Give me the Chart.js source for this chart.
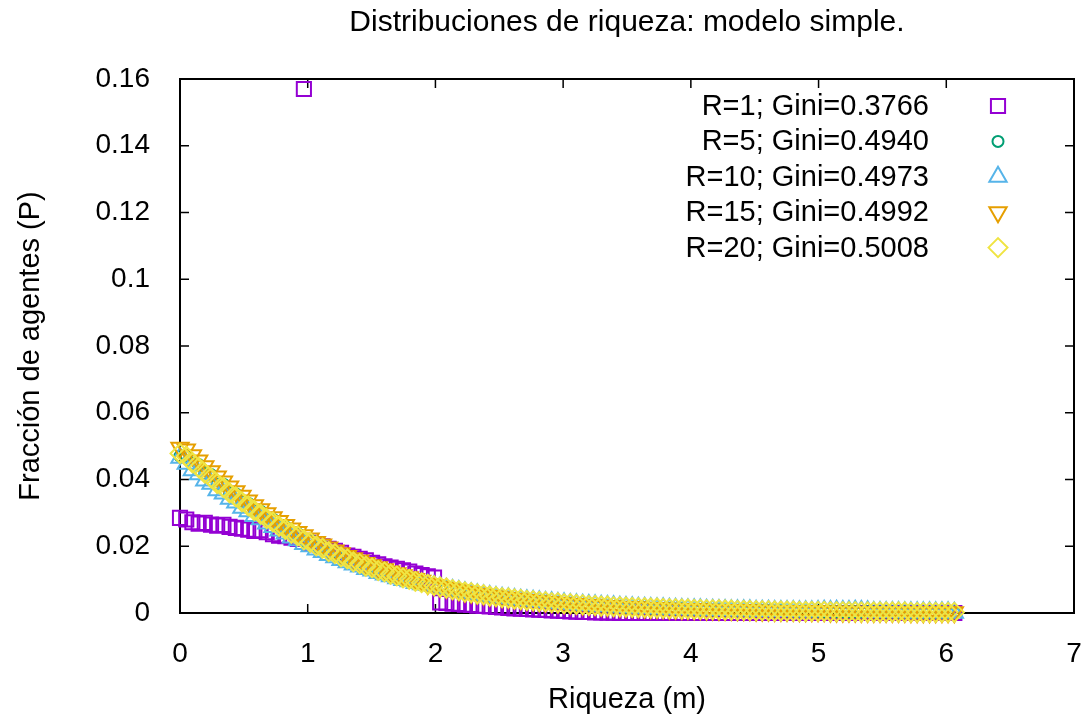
<!DOCTYPE html>
<html>
<head>
<meta charset="utf-8">
<title>Distribuciones de riqueza: modelo simple</title>
<script src="https://cdn.jsdelivr.net/npm/chart.js@4.4.1/dist/chart.umd.min.js"></script>
<style>
  html, body { margin: 0; padding: 0; background: #fff; }
  #wrap { width: 1086px; height: 718px; }
</style>
</head>
<body>
<div id="wrap"><canvas id="riquezaChart" width="1086" height="718"></canvas></div>
<script>
// centro de cada bin de riqueza (m)
const wealth = [
  0, 0.049, 0.097, 0.146, 0.194, 0.243, 0.291, 0.340, 0.388, 0.437,
  0.485, 0.534, 0.582, 0.631, 0.679, 0.728, 0.776, 0.825, 0.873, 0.922,
  0.970, 1.019, 1.067, 1.116, 1.164, 1.213, 1.261, 1.310, 1.358, 1.407,
  1.455, 1.504, 1.552, 1.601, 1.649, 1.698, 1.746, 1.795, 1.843, 1.892,
  1.940, 1.989, 2.037, 2.086, 2.134, 2.183, 2.231, 2.280, 2.328, 2.377,
  2.425, 2.474, 2.522, 2.571, 2.619, 2.668, 2.716, 2.765, 2.813, 2.862,
  2.910, 2.959, 3.007, 3.056, 3.104, 3.153, 3.201, 3.250, 3.298, 3.347,
  3.395, 3.444, 3.492, 3.541, 3.589, 3.638, 3.686, 3.735, 3.783, 3.832,
  3.880, 3.929, 3.977, 4.026, 4.074, 4.123, 4.171, 4.220, 4.268, 4.317,
  4.365, 4.414, 4.462, 4.511, 4.559, 4.608, 4.656, 4.705, 4.753, 4.802,
  4.850, 4.899, 4.947, 4.996, 5.044, 5.093, 5.141, 5.190, 5.238, 5.287,
  5.335, 5.384, 5.432, 5.481, 5.529, 5.578, 5.626, 5.675, 5.723, 5.772,
  5.820, 5.869, 5.917, 5.966, 6.014, 6.063
];

// fraccion de agentes en cada bin, una lista por numero de rondas R
const fracR1 = [
  0.0285, 0.0280, 0.0272, 0.0268, 0.0270, 0.0265, 0.0262, 0.0264, 0.0258, 0.0255,
  0.0253, 0.0250, 0.0246, 0.0248, 0.0242, 0.0236, 0.0232, 0.0230, 0.0226, 0.0222,
  0.1570, 0.0210, 0.0206, 0.0200, 0.0192, 0.0186, 0.0180, 0.0172, 0.0168, 0.0162,
  0.0158, 0.0150, 0.0146, 0.0140, 0.0136, 0.0132, 0.0128, 0.0124, 0.0118, 0.0114,
  0.0110, 0.0106, 0.0032, 0.0030, 0.0028, 0.0027, 0.0025, 0.0024, 0.0022, 0.0021,
  0.0020, 0.0018, 0.0017, 0.0015, 0.0014, 0.0013, 0.0012, 0.0011, 0.0010, 0.0009,
  0.0008, 0.0007, 0.0006, 0.0005, 0.0004, 0.0003, 0.0003, 0.0002, 0.0002, 0.0001,
  0.0001, 0, 0, 0, 0, 0, 0, 0, 0, 0,
  0, 0, 0, 0, 0, 0, 0, 0, 0, 0,
  0, 0, 0, 0, 0, 0, 0, 0, 0, 0,
  0, 0, 0, 0, 0, 0, 0, 0, 0, 0,
  0, 0, 0, 0, 0, 0, 0, 0, 0, 0,
  0, 0, 0, 0, 0, 0
];

const fracR5 = [
  0.0470, 0.0472, 0.0448, 0.0445, 0.0418, 0.0415, 0.0386, 0.0386, 0.0359, 0.0357,
  0.0334, 0.0329, 0.0308, 0.0305, 0.0281, 0.0281, 0.0258, 0.0259, 0.0237, 0.0238,
  0.0216, 0.0219, 0.0198, 0.0201, 0.0181, 0.0184, 0.0165, 0.0168, 0.0149, 0.0154,
  0.0136, 0.0140, 0.0122, 0.0128, 0.0110, 0.0116, 0.0099, 0.0106, 0.0089, 0.0096,
  0.0085, 0.0083, 0.0077, 0.0075, 0.0069, 0.0067, 0.0062, 0.0061, 0.0056, 0.0055,
  0.0050, 0.0049, 0.0046, 0.0045, 0.0042, 0.0041, 0.0038, 0.0037, 0.0035, 0.0034,
  0.0031, 0.0031, 0.0028, 0.0028, 0.0025, 0.0025, 0.0023, 0.0023, 0.0021, 0.0021,
  0.0019, 0.0019, 0.0017, 0.0018, 0.0016, 0.0016, 0.0014, 0.0015, 0.0013, 0.0014,
  0.0012, 0.0013, 0.0011, 0.0012, 0.0010, 0.0011, 0.0009, 0.0010, 0.0009, 0.0009,
  0.0008, 0.0009, 0.0007, 0.0008, 0.0007, 0.0007, 0.0006, 0.0007, 0.0006, 0.0006,
  0.0005, 0.0006, 0.0005, 0.0005, 0.0004, 0.0005, 0.0004, 0.0004, 0.0004, 0.0004,
  0.0003, 0.0004, 0.0003, 0.0003, 0.0003, 0.0003, 0.0002, 0.0003, 0.0002, 0.0002,
  0.0002, 0.0002, 0.0002, 0.0002, 0.0001, 0.0002
];

const fracR10 = [
  0.0465, 0.0447, 0.0428, 0.0416, 0.0397, 0.0387, 0.0368, 0.0358, 0.0342, 0.0331,
  0.0315, 0.0305, 0.0291, 0.0281, 0.0268, 0.0258, 0.0247, 0.0238, 0.0226, 0.0218,
  0.0207, 0.0200, 0.0190, 0.0183, 0.0174, 0.0167, 0.0159, 0.0152, 0.0145, 0.0139,
  0.0132, 0.0127, 0.0120, 0.0115, 0.0110, 0.0104, 0.0099, 0.0095, 0.0090, 0.0086,
  0.0085, 0.0081, 0.0077, 0.0073, 0.0069, 0.0066, 0.0062, 0.0059, 0.0056, 0.0053,
  0.0051, 0.0048, 0.0046, 0.0044, 0.0042, 0.0040, 0.0038, 0.0037, 0.0035, 0.0033,
  0.0032, 0.0030, 0.0029, 0.0027, 0.0026, 0.0025, 0.0024, 0.0023, 0.0022, 0.0021,
  0.0020, 0.0019, 0.0018, 0.0017, 0.0016, 0.0016, 0.0015, 0.0014, 0.0014, 0.0013,
  0.0013, 0.0012, 0.0011, 0.0011, 0.0011, 0.0010, 0.0010, 0.0009, 0.0009, 0.0008,
  0.0008, 0.0008, 0.0008, 0.0007, 0.0007, 0.0007, 0.0006, 0.0006, 0.0006, 0.0006,
  0.0005, 0.0005, 0.0005, 0.0006, 0.0007, 0.0006, 0.0007, 0.0006, 0.0006, 0.0007,
  0.0006, 0.0005, 0.0003, 0.0003, 0.0003, 0.0003, 0.0003, 0.0002, 0.0002, 0.0002,
  0.0002, 0.0002, 0.0002, 0.0002, 0.0002, 0.0001
];

const fracR15 = [
  0.0495, 0.0490, 0.0473, 0.0457, 0.0440, 0.0425, 0.0409, 0.0394, 0.0379, 0.0365,
  0.0351, 0.0337, 0.0323, 0.0311, 0.0299, 0.0287, 0.0276, 0.0264, 0.0253, 0.0243,
  0.0233, 0.0223, 0.0213, 0.0205, 0.0196, 0.0187, 0.0179, 0.0171, 0.0164, 0.0157,
  0.0150, 0.0143, 0.0137, 0.0131, 0.0124, 0.0119, 0.0113, 0.0107, 0.0102, 0.0097,
  0.0087, 0.0083, 0.0079, 0.0075, 0.0071, 0.0068, 0.0064, 0.0061, 0.0058, 0.0055,
  0.0052, 0.0050, 0.0047, 0.0045, 0.0043, 0.0041, 0.0039, 0.0037, 0.0035, 0.0034,
  0.0032, 0.0031, 0.0029, 0.0028, 0.0027, 0.0025, 0.0024, 0.0023, 0.0022, 0.0021,
  0.0020, 0.0019, 0.0018, 0.0018, 0.0017, 0.0016, 0.0015, 0.0015, 0.0014, 0.0013,
  0.0013, 0.0012, 0.0012, 0.0011, 0.0011, 0.0010, 0.0010, 0.0009, 0.0009, 0.0009,
  0.0008, 0.0008, 0.0008, 0.0007, 0.0007, 0.0007, 0.0006, 0.0006, 0.0006, 0.0006,
  0.0005, 0.0005, 0.0005, 0.0005, 0.0005, 0.0004, 0.0004, 0.0004, 0.0004, 0.0004,
  0.0003, 0.0003, 0.0003, 0.0003, 0.0003, 0.0003, 0.0003, 0.0003, 0.0002, 0.0002,
  0.0002, 0.0002, 0.0002, 0.0002, 0.0002, 0.0002
];

const fracR20 = [
  0.0478, 0.0470, 0.0450, 0.0436, 0.0419, 0.0405, 0.0388, 0.0376, 0.0360, 0.0348,
  0.0333, 0.0321, 0.0307, 0.0296, 0.0283, 0.0273, 0.0260, 0.0251, 0.0239, 0.0231,
  0.0219, 0.0212, 0.0201, 0.0194, 0.0184, 0.0178, 0.0168, 0.0162, 0.0153, 0.0148,
  0.0140, 0.0135, 0.0127, 0.0123, 0.0116, 0.0111, 0.0105, 0.0101, 0.0095, 0.0091,
  0.0086, 0.0082, 0.0078, 0.0075, 0.0070, 0.0067, 0.0063, 0.0061, 0.0057, 0.0055,
  0.0051, 0.0049, 0.0046, 0.0045, 0.0042, 0.0041, 0.0038, 0.0037, 0.0035, 0.0034,
  0.0031, 0.0031, 0.0028, 0.0028, 0.0026, 0.0025, 0.0023, 0.0023, 0.0021, 0.0021,
  0.0019, 0.0019, 0.0018, 0.0017, 0.0016, 0.0016, 0.0015, 0.0015, 0.0014, 0.0013,
  0.0013, 0.0012, 0.0012, 0.0011, 0.0011, 0.0010, 0.0010, 0.0010, 0.0009, 0.0009,
  0.0008, 0.0008, 0.0008, 0.0007, 0.0007, 0.0007, 0.0006, 0.0006, 0.0006, 0.0006,
  0.0005, 0.0005, 0.0005, 0.0005, 0.0005, 0.0004, 0.0004, 0.0004, 0.0004, 0.0004,
  0.0003, 0.0003, 0.0003, 0.0003, 0.0003, 0.0003, 0.0003, 0.0003, 0.0002, 0.0002,
  0.0002, 0.0002, 0.0002, 0.0002, 0.0002, 0.0002
];

const seriesLabels = [
  'R=1; Gini=0.3766',
  'R=5; Gini=0.4940',
  'R=10; Gini=0.4973',
  'R=15; Gini=0.4992',
  'R=20; Gini=0.5008'
];
const xTickLabels = ['0', '1', '2', '3', '4', '5', '6', '7'];
const yTickLabels = ['0', '0.02', '0.04', '0.06', '0.08', '0.1', '0.12', '0.14', '0.16'];

const FONT = "'Liberation Sans', Arial, Helvetica, sans-serif";
Chart.defaults.font.family = FONT;
Chart.defaults.color = '#000';

// estilo de punto de cada serie (al estilo gnuplot)
const markerStyles = [
  { color: '#9400d3', shape: 'rect', radius: 10, rotation: 0 },
  { color: '#009e73', shape: 'circle', radius: 5.5, rotation: 0 },
  { color: '#56b4e9', shape: 'triangle', radius: 10, rotation: 0 },
  { color: '#e69f00', shape: 'triangle', radius: 10, rotation: 180 },
  { color: '#f0e442', shape: 'rectRot', radius: 9.5, rotation: 0 }
];
const seriesValues = [fracR1, fracR5, fracR10, fracR15, fracR20];

function toPoints(values) {
  return values.map((v, i) => ({ x: wealth[i], y: v }));
}

const datasets = seriesValues.map((values, i) => {
  const m = markerStyles[i];
  return {
    label: seriesLabels[i],
    data: toPoints(values),
    showLine: false,
    pointStyle: m.shape,
    pointRadius: m.radius,
    pointHoverRadius: m.radius,
    pointRotation: m.rotation,
    borderColor: m.color,
    pointBorderColor: m.color,
    backgroundColor: 'rgba(0,0,0,0)',
    pointBackgroundColor: 'rgba(0,0,0,0)',
    borderWidth: 2,
    pointBorderWidth: 2,
    clip: false,
    order: seriesValues.length - i
  };
});

// marco cerrado con marcas de escala hacia dentro en los cuatro lados
const framePlugin = {
  id: 'gnuplotFrame',
  beforeDatasetsDraw(chart) {
    const { ctx, chartArea: a, scales } = chart;
    const tick = 9;
    ctx.save();
    ctx.strokeStyle = '#000';
    ctx.lineWidth = 1.5;
    ctx.beginPath();
    scales.x.ticks.forEach(t => {
      const px = scales.x.getPixelForValue(t.value);
      ctx.moveTo(px, a.bottom);
      ctx.lineTo(px, a.bottom - tick);
      ctx.moveTo(px, a.top);
      ctx.lineTo(px, a.top + tick);
    });
    scales.y.ticks.forEach(t => {
      const py = scales.y.getPixelForValue(t.value);
      ctx.moveTo(a.left, py);
      ctx.lineTo(a.left + tick, py);
      ctx.moveTo(a.right, py);
      ctx.lineTo(a.right - tick, py);
    });
    ctx.stroke();
    ctx.lineWidth = 2;
    ctx.strokeRect(a.left, a.top, a.right - a.left, a.bottom - a.top);
    ctx.restore();
  }
};

// leyenda: texto alineado a la derecha y el simbolo a su lado
const keyPlugin = {
  id: 'gnuplotKey',
  afterDatasetsDraw(chart) {
    const { ctx } = chart;
    const textRight = 929;
    const symbolX = 998;
    ctx.save();
    ctx.font = '29px ' + FONT;
    ctx.textAlign = 'right';
    ctx.textBaseline = 'alphabetic';
    chart.data.datasets.forEach((ds, i) => {
      const baseline = 115 + i * 35.4;
      ctx.fillStyle = '#000';
      ctx.fillText(ds.label, textRight, baseline);
      ctx.strokeStyle = ds.pointBorderColor;
      ctx.fillStyle = 'rgba(0,0,0,0)';
      ctx.lineWidth = ds.pointBorderWidth;
      Chart.helpers.drawPoint(ctx, {
        pointStyle: ds.pointStyle,
        rotation: ds.pointRotation,
        radius: ds.pointRadius,
        borderWidth: ds.pointBorderWidth
      }, symbolX, baseline - 9);
    });
    ctx.restore();
  }
};

const ctx = document.getElementById('riquezaChart').getContext('2d');
new Chart(ctx, {
  type: 'scatter',
  data: { datasets: datasets },
  plugins: [framePlugin, keyPlugin],
  options: {
    responsive: false,
    animation: false,
    devicePixelRatio: 1,
    layout: { padding: { left: 0, right: 8, top: 0, bottom: 0 } },
    plugins: {
      legend: { display: false },
      tooltip: { enabled: false },
      title: {
        display: true,
        text: 'Distribuciones de riqueza: modelo simple.',
        fullSize: false,
        color: '#000',
        font: { size: 30, weight: 'normal' },
        padding: { top: 5, bottom: 38 }
      }
    },
    scales: {
      x: {
        type: 'linear',
        min: 0,
        max: 7,
        afterFit: scale => {
          scale.height = 105;
          scale.paddingLeft = 0;
          scale.paddingRight = 0;
        },
        ticks: {
          stepSize: 1,
          padding: 24,
          color: '#000',
          font: { size: 28 },
          maxRotation: 0,
          callback: (value, index) => xTickLabels[index]
        },
        grid: { display: false, drawTicks: false },
        border: { display: false },
        title: {
          display: true,
          text: 'Riqueza (m)',
          color: '#000',
          font: { size: 29 },
          padding: { top: 0, bottom: 1 }
        }
      },
      y: {
        type: 'linear',
        min: 0,
        max: 0.16,
        afterFit: scale => {
          scale.width = 180;
          scale.paddingTop = 0;
          scale.paddingBottom = 0;
        },
        ticks: {
          stepSize: 0.02,
          padding: 30,
          color: '#000',
          font: { size: 28 },
          callback: (value, index) => yTickLabels[index]
        },
        grid: { display: false, drawTicks: false },
        border: { display: false },
        title: {
          display: true,
          text: 'Fracción de agentes (P)',
          color: '#000',
          font: { size: 29 },
          padding: { top: 14, bottom: 0 }
        }
      }
    }
  }
});
</script>
</body>
</html>
